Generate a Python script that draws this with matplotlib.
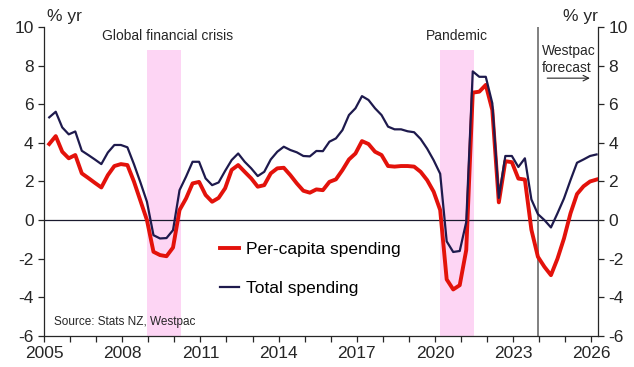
import matplotlib
matplotlib.use("Agg")
import matplotlib.pyplot as plt
import numpy as np
from matplotlib.ticker import FixedLocator, MultipleLocator

plt.rcParams["font.family"] = ["Liberation Sans", "DejaVu Sans"]
plt.rcParams["axes.unicode_minus"] = False

# ---- Data (annual % change, quarterly from 2005 Q1) ----
start_year = 2005.2
total_spending = [
    5.32, 5.61, 4.80, 4.44, 4.59, 3.59, 3.37, 3.14, 2.90, 3.50,
    3.89, 3.89, 3.77, 2.90, 1.95, 0.95, -0.78, -0.95, -0.93, -0.52,
    1.55, 2.25, 3.02, 3.02, 2.16, 1.81, 1.95, 2.55, 3.11, 3.45,
    3.02, 2.68, 2.28, 2.50, 3.14, 3.54, 3.80, 3.63, 3.51, 3.32,
    3.30, 3.58, 3.57, 4.06, 4.23, 4.66, 5.44, 5.79, 6.42, 6.22,
    5.79, 5.44, 4.84, 4.70, 4.70, 4.60, 4.55, 4.20, 3.70, 3.10,
    2.40, -1.10, -1.65, -1.60, -0.10, 7.70, 7.42, 7.42, 6.05, 1.15,
    3.32, 3.32, 2.75, 3.20, 1.07, 0.31, 0.00, -0.38, 0.35, 1.12,
    2.07, 2.97, 3.14, 3.32, 3.40,
]
per_capita = [
    3.94, 4.35, 3.54, 3.20, 3.37, 2.42, 2.18, 1.93, 1.69, 2.33,
    2.80, 2.90, 2.85, 2.00, 1.00, 0.00, -1.64, -1.81, -1.87, -1.42,
    0.52, 1.12, 1.90, 1.98, 1.30, 0.95, 1.15, 1.65, 2.60, 2.85,
    2.50, 2.16, 1.73, 1.81, 2.42, 2.68, 2.71, 2.33, 1.90, 1.52,
    1.42, 1.59, 1.55, 1.98, 2.11, 2.59, 3.14, 3.45, 4.09, 3.94,
    3.54, 3.37, 2.80, 2.77, 2.80, 2.80, 2.77, 2.50, 2.07, 1.47,
    0.52, -3.07, -3.59, -3.37, -1.55, 6.60, 6.65, 7.00, 5.70, 0.92,
    3.05, 3.00, 2.15, 2.10, -0.50, -1.90, -2.42, -2.85, -2.00, -0.95,
    0.35, 1.35, 1.75, 2.00, 2.10,
]
dates = start_year + 0.25 * np.arange(len(total_spending))
year_ticks = [2005, 2008, 2011, 2014, 2017, 2020, 2023, 2026]

gfc_span = (2008.95, 2010.25)
pandemic_span = (2020.2, 2021.48)
forecast_start = 2023.96

red = "#E3120B"
navy = "#1E1A4D"
pink = "#FDD5F4"
txt = "#262626"

fig = plt.figure(figsize=(6.34, 3.67), dpi=100)
ax = fig.add_axes([0.0694, 0.0845, 0.8736, 0.842])

ax.axvspan(*gfc_span, ymin=0, ymax=(8.8 + 6) / 16, color=pink, lw=0, zorder=0)
ax.axvspan(*pandemic_span, ymin=0, ymax=(8.8 + 6) / 16, color=pink, lw=0, zorder=0)
ax.axhline(0, color="#1a1a2e", lw=0.9, zorder=1)
ax.axvline(forecast_start, color="#808080", lw=1.4, zorder=1)

ax.plot(dates, per_capita, color=red, lw=2.8, label="Per-capita spending", zorder=3)
ax.plot(dates, total_spending, color=navy, lw=1.6, label="Total spending", zorder=4)

ax.set_xlim(2005, 2026.25)
ax.set_ylim(-6, 10)
ax.xaxis.set_major_locator(FixedLocator(year_ticks))
ax.xaxis.set_minor_locator(MultipleLocator(1))
ax.yaxis.set_major_locator(MultipleLocator(2))
ax.tick_params(axis="both", which="both", direction="out", length=4, width=0.9,
               labelsize=12.5, colors=txt)
ax.tick_params(axis="y", right=True, labelright=True)
ax.spines["top"].set_visible(False)
for s in ("left", "right", "bottom"):
    ax.spines[s].set_color(txt)
    ax.spines[s].set_linewidth(0.9)

fig.text(0.074, 0.955, "% yr", fontsize=12.5, ha="left", va="center", color=txt)
fig.text(0.943, 0.955, "% yr", fontsize=12.5, ha="right", va="center", color=txt)

ax.text(np.mean(gfc_span) + 0.15, 9.15, "Global financial crisis", fontsize=10,
        ha="center", va="bottom", color=txt)
ax.text(np.mean(pandemic_span), 9.15, "Pandemic", fontsize=10,
        ha="center", va="bottom", color=txt)
ax.text(forecast_start + 0.15, 8.3, "Westpac\nforecast", fontsize=10,
        ha="left", va="center", color=txt, linespacing=1.25)
ax.annotate("", xy=(2026.05, 7.35), xytext=(2024.2, 7.35),
            arrowprops=dict(arrowstyle="->", color=txt, lw=0.8))
ax.text(2005.4, -5.3, "Source: Stats NZ, Westpac", fontsize=8.5,
        ha="left", va="center", color=txt)

ax.legend(loc="upper left", bbox_to_anchor=(0.29, 0.355), frameon=False,
          fontsize=12.5, handlelength=1.1, handletextpad=0.4, labelspacing=1.35)

fig.savefig("out.png", dpi=100, facecolor="white")
